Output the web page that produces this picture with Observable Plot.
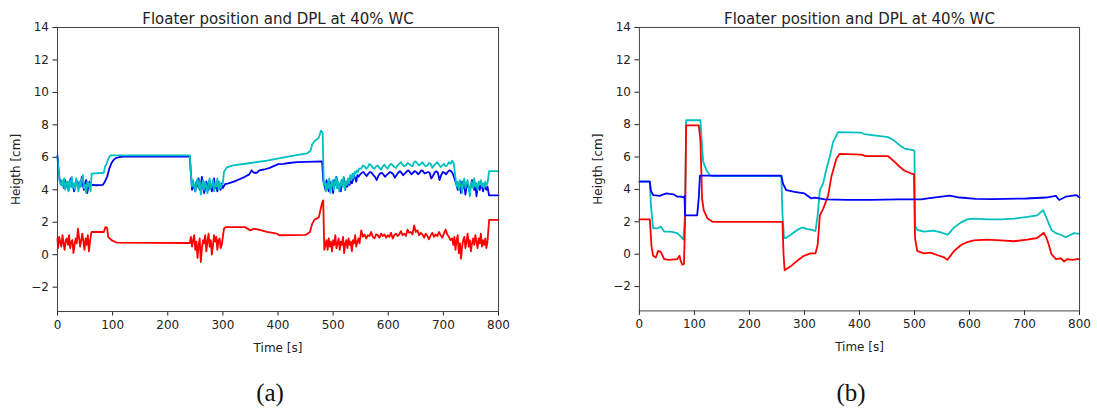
<!DOCTYPE html>
<html>
<head>
<meta charset="utf-8">
<script src="https://cdn.jsdelivr.net/npm/d3@7"></script>
<script src="https://cdn.jsdelivr.net/npm/@observablehq/plot@0.6"></script>
<style>
  body { margin: 0; background: #fff; }
  #wrap { position: relative; width: 1097px; height: 412px; overflow: hidden; background: #fff; }
  .panel { position: absolute; top: 0; }
  .cap { position: absolute; top: 393px; transform: translate(-50%, -50%); font-family: "Liberation Serif", "DejaVu Serif", serif; font-size: 25px; color: #111; }
</style>
</head>
<body>
<div id="wrap">
  <div class="panel" id="pa" style="left:0px"></div>
  <div class="panel" id="pb" style="left:582px"></div>
  <div class="cap" style="left:270px">(a)</div>
  <div class="cap" style="left:851px">(b)</div>
</div>
<script>
// ---------- shared axis data ----------
const titleText = "Floater position and DPL at 40% WC";
const xTicks = [0, 100, 200, 300, 400, 500, 600, 700, 800];
const yTicks = [-2, 0, 2, 4, 6, 8, 10, 12, 14];
const xLabel = "Time [s]";
const yLabel = "Heigth [cm]";

// ---------- panel (a): key points [t, value] ----------
const aBlueKey = [[0,6.1],[2,5.2],[4,4.6],[62,4.3],[70,4.28],[82,4.3],[86,4.5],[90,4.8],[94,5.3],[98,5.65],[102,5.85],[106,5.95],[112,6.02],[120,6.05],[240,6.05],[242,5.0],[244,4.0],
  [304,4.35],[310,4.4],[320,4.5],[330,4.65],[340,4.8],[348,4.95],[352,5.2],[356,5.05],[362,5.05],[366,5.2],[375,5.25],[385,5.35],[395,5.5],[400,5.58],[410,5.6],[420,5.65],[434,5.7],[450,5.72],[480,5.75],[482,4.6],
  [783,3.65],[800,3.65]];
// noisy stretches: start time, step, hand-read values
const aBlueNoise = [
  {t0:6, dt:2, v:[4.5,4.3,4.4,4.1,4.6,4.2,4.3,4.0,4.5,4.7,4.2,4.4,3.9,4.3,4.6,4.4,4.1,4.5,4.2,4.8,4.3,4.0,4.4,4.6,3.8,4.2,4.5,4.3]},
  {t0:246, dt:2, v:[4.4,4.1,3.9,4.5,4.2,4.7,4.0,4.3,4.8,4.2,3.8,4.1,4.5,4.3,4.0,4.6,4.2,3.9,4.4,4.7,4.1,4.3,3.9,4.5,4.2,4.0,4.4,4.1]},
  {t0:484, dt:2, v:[4.3,4.0,4.6,4.2,3.9,4.5,4.1,4.4,3.8,4.6,4.3,4.8,4.1,4.4,4.2,3.9,4.6,4.3,4.7,4.0,4.5,4.2,4.6,4.3,4.8,4.4,4.6,4.9,4.7,4.5,4.9,4.8,4.9]},
  {t0:552, dt:3, v:[5.05,5.1,4.95,4.85,5.0,5.1,5.05,4.9,4.8,4.6,4.85,5.0,5.05,4.95,4.8,4.9,5.0,5.1,5.05,4.95,4.75,4.9,5.05,5.15,5.05,4.9,5.0,5.1,5.2,5.1,4.95,5.05,5.15,5.1,4.95,5.05,5.2,5.15,5.0,5.05,5.1,5.05,4.7,4.85,5.05,5.15,5.05,4.6,4.9,5.1,5.05,4.95,5.1,5.2,5.15,5.0]},
  {t0:724, dt:2, v:[4.3,4.0,4.4,4.2,3.8,4.5,4.1,4.3,3.7,4.2,4.4,4.1,3.9,4.3,4.6,4.2,4.0,4.4,3.6,4.1,4.3,4.0,4.4,4.2,3.9,4.3,4.1,4.0,4.2]}
];

const aCyanKey = [[0,6.0],[2,5.1],[4,4.5],[62,5.0],[84,5.05],[86,5.4],[89,5.6],[92,5.9],[96,6.12],[100,6.12],[240,6.12],[242,5.0],[244,4.2],
  [302,5.1],[307,5.38],[319,5.5],[350,5.65],[380,5.8],[404,5.95],[428,6.1],[453,6.25],[459,6.4],[462,6.8],[468,7.05],[474,7.2],[478,7.65],[481,7.5],[483,4.3],
  [551,5.3],[783,5.15],[800,5.15]];
const aCyanNoise = [
  {t0:6, dt:2, v:[4.3,4.6,4.2,4.7,4.0,4.4,4.5,3.9,4.6,4.2,4.8,4.1,4.4,4.0,4.7,4.3,3.9,4.5,4.2,4.6,4.9,4.1,4.3,3.8,4.5,4.2,4.4,3.9]},
  {t0:246, dt:2, v:[4.6,4.2,3.9,4.4,4.7,4.1,4.5,3.7,4.3,4.6,4.0,4.5,4.2,3.8,4.4,4.7,4.1,4.3,4.6,3.9,4.4,4.2,4.7,4.0,4.5,4.1,4.3,4.4]},
  {t0:485, dt:2, v:[4.5,3.9,4.4,4.1,4.7,3.8,4.3,4.6,4.0,4.4,4.8,4.1,4.5,3.9,4.3,4.6,4.2,4.8,4.0,4.5,4.3,4.7,4.4,4.9,4.6,5.0,4.7,5.1,5.0,5.2,5.1,5.3]},
  {t0:554, dt:3, v:[5.5,5.45,5.3,5.4,5.6,5.5,5.35,5.3,5.45,5.5,5.35,5.25,5.45,5.55,5.4,5.3,5.5,5.6,5.5,5.4,5.35,5.5,5.6,5.7,5.55,5.45,5.5,5.65,5.6,5.5,5.45,5.7,5.75,5.6,5.5,5.6,5.7,5.55,5.45,5.5,5.65,5.6,5.35,5.5,5.6,5.7,5.55,5.4,5.5,5.6,5.45,5.5,5.7,5.6,5.8,5.6]},
  {t0:722, dt:2, v:[4.7,4.2,4.5,4.0,4.6,4.3,3.8,4.5,4.7,4.1,4.4,4.6,4.2,3.6,4.3,4.5,4.1,4.7,4.2,4.4,4.0,4.5,4.3,4.6,4.2,4.4,4.1,4.5,4.3,4.4]}
];

const aRedKey = [[0,1.0],[62,1.4],[84,1.4],[87,1.7],[90,1.65],[92,1.1],[98,0.9],[107,0.75],[240,0.72],
  [302,1.6],[305,1.7],[340,1.7],[350,1.5],[356,1.6],[365,1.55],[380,1.4],[398,1.3],[402,1.2],[450,1.22],[458,1.4],[462,1.9],[466,2.15],[474,2.3],[480,3.2],[482,3.35],[484,0.3],
  [551,1.5],[783,2.15],[800,2.15]];
const aRedNoise = [
  {t0:1, dt:2, v:[0.4,1.1,0.8,0.5,1.2,0.7,0.3,0.9,1.0,0.6,1.2,0.4,0.8,0.9,0.1,0.6,1.0,0.7,1.6,1.1,0.5,0.9,1.3,0.8,0.3,1.0,0.6,1.2,0.2,0.8,1.3]},
  {t0:242, dt:2, v:[1.1,0.5,0.9,1.2,0.3,0.8,-0.2,0.6,1.0,-0.45,0.4,0.9,0.7,1.2,0.2,0.8,1.3,0.5,0.9,0.0,0.6,1.2,0.8,1.1,0.3,0.9,1.0,0.4,0.6]},
  {t0:486, dt:2, v:[0.6,0.9,0.3,1.0,0.5,0.8,0.2,0.9,0.6,1.2,0.4,0.7,1.0,0.3,0.8,0.6,1.1,0.1,0.7,0.9,0.4,1.0,0.6,0.8,0.2,0.9,0.7,1.2,0.5,0.8,1.0,0.7]},
  {t0:554, dt:3, v:[1.1,1.25,1.0,1.2,1.15,1.4,1.1,1.0,1.25,1.2,1.05,1.3,1.15,1.25,1.05,1.2,1.1,1.35,1.0,1.2,1.3,1.15,1.25,1.45,1.2,1.3,1.15,1.55,1.35,1.4,1.25,1.8,1.4,1.5,1.2,1.35,1.25,1.05,1.3,1.15,0.95,1.2,1.35,1.1,1.25,1.15,1.4,1.2,1.05,1.3,1.55,1.25,1.1,0.9]},
  {t0:716, dt:2, v:[1.0,0.6,1.1,0.3,0.9,1.2,0.1,0.7,-0.25,0.5,0.9,1.1,0.4,0.8,1.3,0.5,0.9,0.2,0.7,1.0,0.6,1.2,0.8,0.4,1.0,0.7,1.3,0.5,0.9,0.6,1.0,0.4,0.8]}
];

// ---------- panel (b): key points [t, value] ----------
const bBlue = [[0,4.48],[19,4.48],[21,3.9],[25,3.65],[37,3.6],[44,3.7],[49,3.75],[55,3.72],[62,3.7],[69,3.55],[76,3.55],[80,3.5],[82,3.6],[83,2.4],[105,2.4],[108,3.5],[110,4.85],[258,4.85],[261,4.35],[267,3.95],[282,3.85],[300,3.75],[312,3.45],[319,3.5],[337,3.38],[379,3.35],[420,3.36],[470,3.38],[512,3.38],[524,3.45],[564,3.62],[582,3.5],[612,3.42],[642,3.4],[703,3.44],[739,3.5],[757,3.6],[763,3.35],[775,3.55],[794,3.65],[800,3.5]];
const bCyan = [[0,4.5],[19,4.5],[21,3.0],[25,1.6],[33,1.6],[39,1.7],[45,1.4],[57,1.4],[69,1.3],[75,1.1],[80,0.9],[83,2.5],[85,8.27],[111,8.27],[113,7.1],[116,5.7],[122,5.18],[128,4.87],[134,4.82],[258,4.82],[260,2.5],[263,1.0],[266,1.0],[275,1.2],[287,1.5],[296,1.65],[305,1.55],[314,1.5],[320,1.43],[324,2.4],[328,3.95],[334,4.36],[340,5.28],[346,6.0],[352,6.92],[361,7.54],[403,7.5],[409,7.42],[452,7.23],[464,7.0],[473,6.72],[482,6.52],[497,6.42],[500,6.4],[501,1.75],[505,1.5],[517,1.4],[535,1.45],[548,1.35],[560,1.2],[563,1.3],[572,1.65],[584,1.95],[596,2.15],[608,2.2],[632,2.15],[657,2.15],[681,2.2],[705,2.3],[723,2.4],[734,2.72],[738,2.4],[744,1.9],[749,1.5],[757,1.3],[766,1.2],[775,1.05],[784,1.2],[790,1.3],[800,1.25]];
const bRed = [[0,2.15],[19,2.15],[22,0.5],[25,-0.1],[30,-0.2],[34,0.2],[39,0.15],[45,-0.3],[54,-0.35],[69,-0.3],[73,-0.1],[75,-0.4],[78,-0.65],[81,-0.6],[83,2.0],[85,7.95],[108,7.95],[111,7.0],[114,3.4],[117,2.7],[124,2.2],[133,2.0],[260,2.0],[262,0.0],[264,-1.0],[266,-0.95],[275,-0.75],[287,-0.4],[299,-0.1],[311,0.05],[320,0.05],[324,0.57],[328,2.4],[334,2.8],[343,3.6],[349,4.8],[358,5.9],[364,6.2],[403,6.15],[412,6.05],[452,6.05],[464,5.7],[473,5.4],[482,5.15],[494,4.98],[499,4.95],[501,1.0],[505,0.2],[517,0.05],[529,0.1],[541,-0.05],[554,-0.2],[560,-0.35],[563,-0.2],[572,0.2],[584,0.55],[596,0.75],[608,0.85],[632,0.9],[657,0.85],[681,0.8],[705,0.9],[723,1.0],[735,1.32],[740,1.0],[744,0.6],[749,0.0],[757,-0.3],[766,-0.25],[772,-0.45],[778,-0.3],[787,-0.35],[796,-0.3],[800,-0.3]];

const colBlue = "#0000ff", colCyan = "#00bfbf", colRed = "#ff0000";

// ---------- build tables ----------
function build(key, noise) {
  const rows = key.map(([t, v]) => ({t, v}));
  (noise || []).forEach(n => n.v.forEach((v, i) => rows.push({t: n.t0 + i * n.dt, v})));
  return rows.sort((a, b) => a.t - b.t);
}

function panel(series) {
  return Plot.plot({
    width: 516, height: 360,
    marginLeft: 57, marginRight: 18, marginTop: 27, marginBottom: 49,
    style: {fontFamily: "DejaVu Sans, sans-serif", fontSize: "12px", color: "#222", background: "white"},
    x: {domain: [0, 800], ticks: xTicks, tickSize: 4.5, tickPadding: 4, label: xLabel, labelAnchor: "center", labelOffset: 40, labelArrow: "none"},
    y: {domain: [-3.5, 14], ticks: yTicks, tickSize: 4.5, tickPadding: 4, label: yLabel, labelAnchor: "center", labelOffset: 46, labelArrow: "none"},
    marks: [
      ...series.map(s => Plot.line(s.data, {x: "t", y: "v", stroke: s.color, strokeWidth: 1.8})),
      Plot.frame({stroke: "#444", strokeWidth: 1}),
      Plot.text([titleText], {text: d => d, frameAnchor: "top", dy: -14, fontSize: 15, fill: "#222"})
    ]
  });
}

document.getElementById("pa").appendChild(panel([
  {data: build(aBlueKey, aBlueNoise), color: colBlue},
  {data: build(aCyanKey, aCyanNoise), color: colCyan},
  {data: build(aRedKey, aRedNoise), color: colRed}
]));
document.getElementById("pb").appendChild(panel([
  {data: build(bCyan), color: colCyan},
  {data: build(bRed), color: colRed},
  {data: build(bBlue), color: colBlue}
]));
</script>
</body>
</html>
